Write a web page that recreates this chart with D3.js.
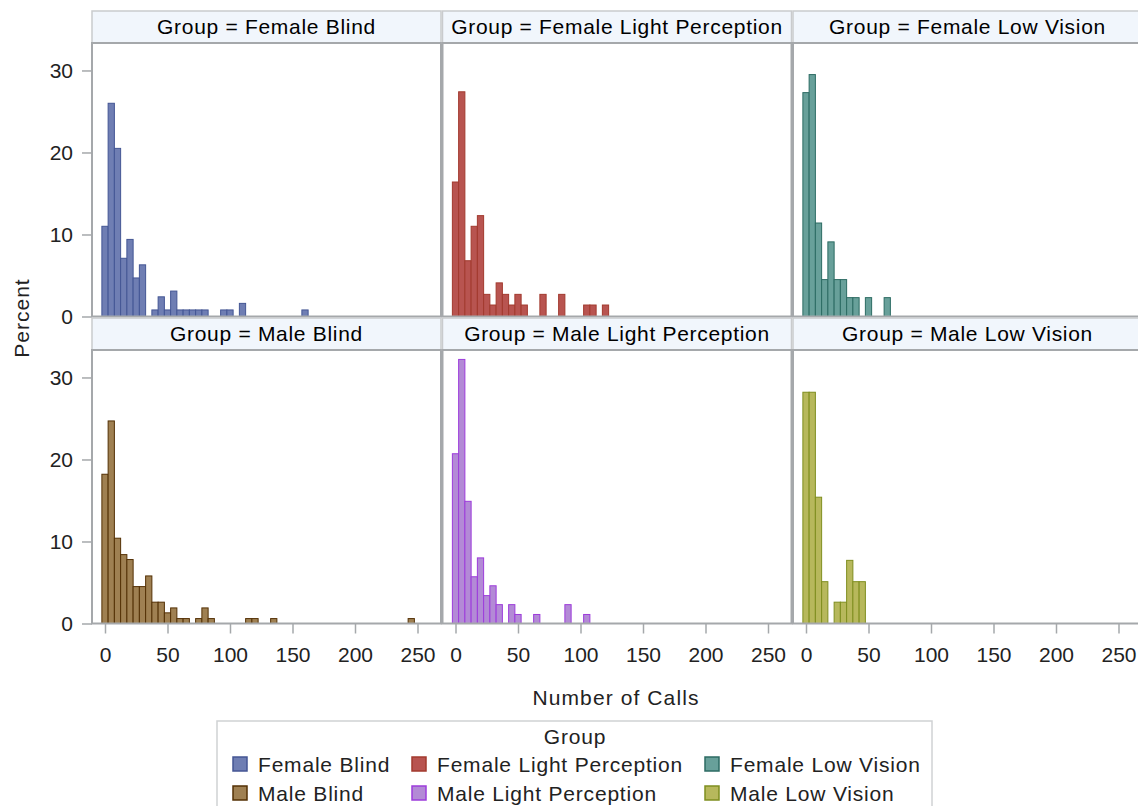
<!DOCTYPE html>
<html>
<head>
<meta charset="utf-8">
<script src="https://d3js.org/d3.v7.min.js"></script>
<style>
  html, body { margin: 0; padding: 0; background: #fff; }
  svg { display: block; font-family: "Liberation Sans", Arial, sans-serif; }
</style>
</head>
<body>
<svg id="chart" width="1138" height="806"></svg>
<script>
// ---------------- DATA ----------------
const groups = ["Female Blind", "Female Light Perception", "Female Low Vision",
                "Male Blind", "Male Light Perception", "Male Low Vision"];
const binWidth = 5; // bins are centred on 0, 5, 10, ... calls

// Percent of each group falling in each bin (bin midpoints 0,5,10,...)
const femaleBlind = [11.0, 26.0, 20.5, 7.1, 9.4, 4.7, 6.3, 0, 0.8, 2.4, 0.8, 3.1, 0.8, 0.8, 0.8, 0.8, 0.8,
                     0, 0, 0.8, 0.8, 0, 1.6, 0, 0, 0, 0, 0, 0, 0, 0, 0, 0.8];
const femaleLightPerception = [16.4, 27.4, 6.8, 11.0, 12.3, 2.7, 1.4, 4.1, 2.7, 1.4, 2.7, 1.4, 0, 0, 2.7,
                               0, 0, 2.7, 0, 0, 0, 1.4, 1.4, 0, 1.4];
const femaleLowVision = [27.3, 29.5, 11.4, 4.5, 9.1, 4.5, 4.5, 2.3, 2.3, 0, 2.3, 0, 0, 2.3];
const maleBlind = [18.2, 24.7, 10.4, 8.4, 7.8, 4.5, 4.5, 5.8, 2.6, 2.6, 1.3, 1.9, 0.6, 0.6, 0, 0.6, 1.9, 0.6,
                   0, 0, 0, 0, 0, 0.6, 0.6, 0, 0, 0.6,
                   0, 0, 0, 0, 0, 0, 0, 0, 0, 0, 0, 0, 0, 0, 0, 0, 0, 0, 0, 0, 0, 0.6];
const maleLightPerception = [20.7, 32.2, 14.9, 5.7, 8.0, 3.4, 4.6, 2.3, 0, 2.3, 1.1, 0, 0, 1.1, 0, 0, 0, 0,
                             2.3, 0, 0, 1.1];
const maleLowVision = [28.2, 28.2, 15.4, 5.1, 0, 2.6, 2.6, 7.7, 5.1, 5.1];

const seriesValues = [femaleBlind, femaleLightPerception, femaleLowVision,
                      maleBlind, maleLightPerception, maleLowVision];

const xTicks = [0, 50, 100, 150, 200, 250];
const yTicks = [0, 10, 20, 30];

const fills   = ["#6f7eb3", "#b85450", "#68a09a", "#9f8052", "#b38ad6", "#b7b85c"];
const strokes = ["#445694", "#a23a2e", "#2c6b63", "#543005", "#9d3cdb", "#7f8e1f"];

// ---------------- LAYOUT ----------------
const svg = d3.select("#chart");
const colX = [92, 442.5, 793];
const plotW = 349;
const headerTop = [11, 318];
const headerH = 32;
const plotTop = [43, 350];
const plotH = 273.5;
const fontSize = 21;

const x = d3.scaleLinear().domain([-10.4, 268.8]).range([0, plotW]);
const y = d3.scaleLinear().domain([0, 33.35]).range([plotH, 0]);

groups.forEach((g, i) => {
  const col = i % 3, row = Math.floor(i / 3);
  const px = colX[col], py = plotTop[row];

  // header strip
  svg.append("rect")
    .attr("x", px).attr("y", headerTop[row])
    .attr("width", plotW).attr("height", headerH)
    .attr("fill", "#f1f6fc").attr("stroke", "#c9cbcd").attr("stroke-width", 1.5);
  svg.append("text")
    .attr("x", px + plotW / 2).attr("y", headerTop[row] + headerH / 2 + 7)
    .attr("text-anchor", "middle").attr("font-size", 21).attr("letter-spacing", 0.7)
    .attr("fill", "#000")
    .text("Group = " + g);

  const p = svg.append("g").attr("transform", `translate(${px},${py})`);
  p.append("rect").attr("width", plotW).attr("height", plotH).attr("fill", "#fff");

  const vals = seriesValues[i].map((v, k) => ({ mid: k * binWidth, v }));
  p.selectAll("rect.bar").data(vals).enter().append("rect")
    .attr("class", "bar")
    .attr("x", d => x(d.mid - binWidth / 2))
    .attr("width", d => x(d.mid + binWidth / 2) - x(d.mid - binWidth / 2))
    .attr("y", d => y(d.v))
    .attr("height", d => y(0) - y(d.v))
    .attr("fill", fills[i])
    .attr("stroke", strokes[i]).attr("stroke-width", 1);

  // frame
  p.append("rect").attr("width", plotW).attr("height", plotH)
    .attr("fill", "none").attr("stroke", "#a5a8ab").attr("stroke-width", 2);

  // y axis on left column
  if (col === 0) {
    const ya = d3.axisLeft(y).tickValues(yTicks).tickSize(10).tickPadding(9);
    const ag = p.append("g").call(ya);
    ag.select(".domain").remove();
    ag.selectAll(".tick line").attr("stroke", "#a5a8ab").attr("stroke-width", 1.5);
    ag.selectAll(".tick text").attr("font-size", fontSize).attr("fill", "#222")
      .attr("font-family", "Liberation Sans, Arial, sans-serif");
  }
  // x axis on bottom row
  if (row === 1) {
    const xa = d3.axisBottom(x).tickValues(xTicks).tickSize(10).tickPadding(14);
    const ag = p.append("g").attr("transform", `translate(0,${plotH})`).call(xa);
    ag.select(".domain").remove();
    ag.selectAll(".tick line").attr("stroke", "#a5a8ab").attr("stroke-width", 1.5);
    ag.selectAll(".tick text").attr("font-size", fontSize).attr("fill", "#222")
      .attr("font-family", "Liberation Sans, Arial, sans-serif");
  }
});

// axis titles
svg.append("text").attr("x", 616).attr("y", 705).attr("text-anchor", "middle")
  .attr("font-size", fontSize).attr("letter-spacing", 1.1).attr("fill", "#222").text("Number of Calls");
svg.append("text").attr("transform", "translate(29,318) rotate(-90)")
  .attr("text-anchor", "middle").attr("font-size", fontSize).attr("letter-spacing", 1)
  .attr("fill", "#222").text("Percent");

// legend
const lg = svg.append("g");
lg.append("rect").attr("x", 217).attr("y", 721).attr("width", 715).attr("height", 100)
  .attr("fill", "#fff").attr("stroke", "#d0d2d4").attr("stroke-width", 1.5);
lg.append("text").attr("x", 575).attr("y", 744).attr("text-anchor", "middle")
  .attr("font-size", fontSize).attr("letter-spacing", 0.8).attr("fill", "#222").text("Group");
const legCols = [233, 412, 705];
const legRows = [764, 793];
groups.forEach((g, i) => {
  const cx = legCols[i % 3], cy = legRows[Math.floor(i / 3)];
  lg.append("rect").attr("x", cx).attr("y", cy - 7).attr("width", 14).attr("height", 14)
    .attr("fill", fills[i]).attr("stroke", strokes[i]).attr("stroke-width", 1.5);
  lg.append("text").attr("x", cx + 25).attr("y", cy + 7.5)
    .attr("font-size", fontSize).attr("letter-spacing", 0.8).attr("fill", "#222").text(g);
});
</script>
</body>
</html>
